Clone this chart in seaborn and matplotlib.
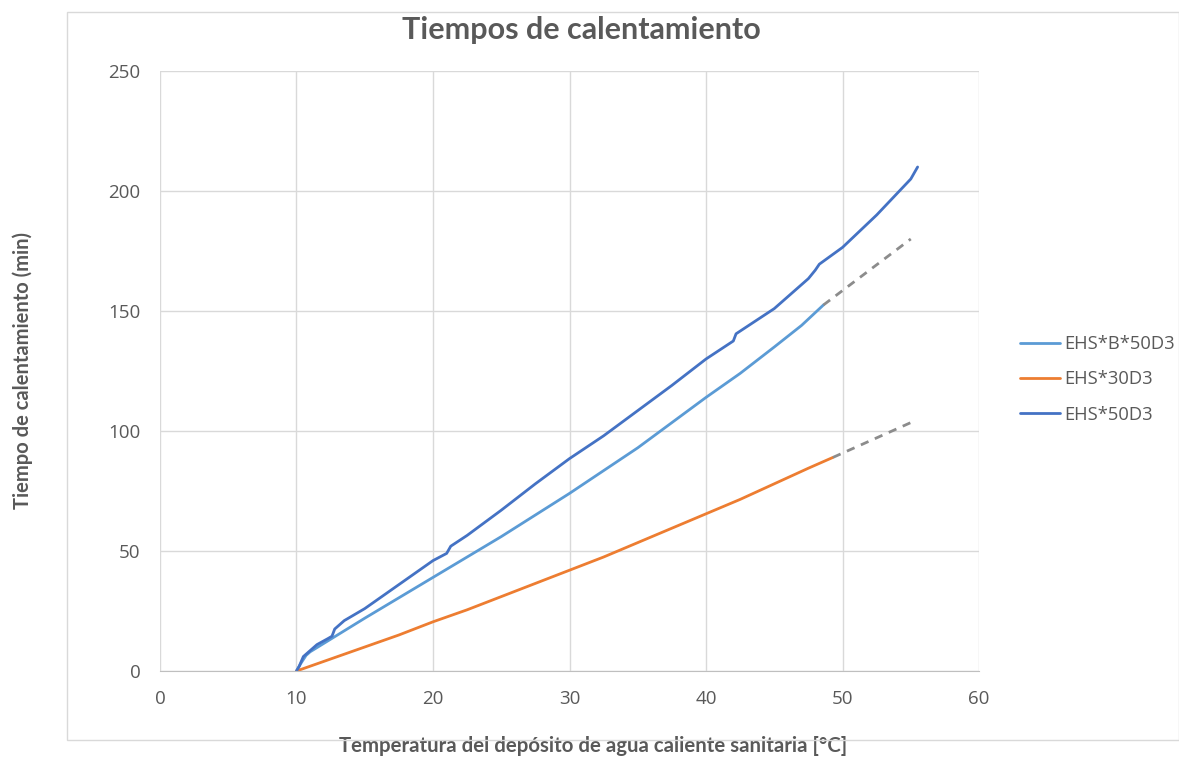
import numpy as np
import pandas as pd
import matplotlib.pyplot as plt
import seaborn as sns
from matplotlib.patches import Rectangle

# data
b50_temp = [10, 10.3, 10.7, 11, 12, 13, 15, 17.5, 20, 22.5, 25, 27.5, 30, 32.5, 35, 37.5, 40, 42.5, 45, 47, 48.6]
b50_time = [0, 3, 6.5, 8, 11.5, 15, 22, 30.5, 39, 47.5, 56, 65, 74, 83.5, 93, 103.5, 114, 124, 135, 144, 152.5]

s30_temp = [10, 12.5, 15, 17.5, 20, 22.5, 25, 27.5, 30, 32.5, 35, 37.5, 40, 42.5, 45, 47.5, 49.3]
s30_time = [0, 5, 10, 15, 20.5, 25.5, 31, 36.5, 42, 47.5, 53.5, 59.5, 65.5, 71.5, 78, 84.5, 89]

s50_temp = [10, 10.2, 10.5, 11, 11.5, 12.3, 12.6, 12.8, 13.5, 15, 17.5, 20, 20.5, 21, 21.3, 22.5,
            25, 27.5, 30, 32.5, 35, 37.5, 40, 42, 42.2, 45, 47.5, 48, 48.3, 50, 52.5, 55, 55.5]
s50_time = [0, 2, 6, 8.5, 11, 13.5, 14.5, 17.5, 21, 26, 36, 46, 47.5, 49, 52, 56.5,
            67, 78, 88.5, 98, 108.5, 119, 130, 137.5, 140.5, 151, 163.5, 167, 169.5, 176.5, 190, 205, 210]

# extrapolated (dashed) segments
b50_ext_temp = [48.6, 55]
b50_ext_time = [152.5, 180]
s30_ext_temp = [49.3, 55]
s30_ext_time = [89, 103.5]

names = ["EHS*B*50D3", "EHS*30D3", "EHS*50D3"]
colors = ["#5B9BD5", "#ED7D31", "#4472C4"]

df = pd.concat([
    pd.DataFrame({"temp": b50_temp, "time": b50_time, "serie": names[0]}),
    pd.DataFrame({"temp": s30_temp, "time": s30_time, "serie": names[1]}),
    pd.DataFrame({"temp": s50_temp, "time": s50_time, "serie": names[2]}),
])

sns.set_style("white")
plt.rcParams['font.family'] = ['Open Sans', 'DejaVu Sans']
grey = "#595959"
bold_font = ['Lato', 'DejaVu Sans']

fig = plt.figure(figsize=(11.79, 7.6), dpi=100)
ax = fig.add_axes([0.1357, 0.1171, 0.6947, 0.7895])

# thin chart-area border
fig.patches.append(Rectangle((67 / 1179, 1 - 740 / 760), (1179 - 67) / 1179, (740 - 12) / 760,
                             transform=fig.transFigure, fill=False, edgecolor="#D9D9D9", linewidth=1))

sns.lineplot(data=df, x="temp", y="time", hue="serie", palette=colors, sort=False,
             estimator=None, linewidth=2, ax=ax)
ax.plot(b50_ext_temp, b50_ext_time, color="#8C8C8C", linestyle=(0, (3, 2.5)), linewidth=2)
ax.plot(s30_ext_temp, s30_ext_time, color="#8C8C8C", linestyle=(0, (3, 2.5)), linewidth=2)

ax.set_xlim(0, 60)
ax.set_ylim(0, 250)
ax.set_xticks(range(0, 61, 10))
ax.set_yticks(range(0, 251, 50))
ax.grid(True, color="#D9D9D9", linewidth=1)
for s in ["top", "right", "left"]:
    ax.spines[s].set_visible(False)
ax.spines["bottom"].set_color("#BFBFBF")
ax.tick_params(axis="both", length=0, labelsize=13.5, labelcolor=grey, pad=14)

ax.set_title("Tiempos de calentamiento", fontsize=22, fontweight="bold", color=grey, pad=23,
             family=bold_font, x=0.514)
ax.set_xlabel("Temperatura del depósito de agua caliente sanitaria [°C]", fontsize=14.7,
              fontweight="bold", color=grey, labelpad=20, family=bold_font, x=0.529)
ax.set_ylabel("Tiempo de calentamiento (min)", fontsize=14.5, fontweight="bold", color=grey,
              labelpad=54, family=bold_font)

leg = ax.legend(loc="center left", bbox_to_anchor=(1.03, 0.486), frameon=False, fontsize=13.2,
                handlelength=2.2, handletextpad=0.2, labelspacing=0.95)
for t in leg.get_texts():
    t.set_color(grey)

fig.savefig("out.png", dpi=100)
